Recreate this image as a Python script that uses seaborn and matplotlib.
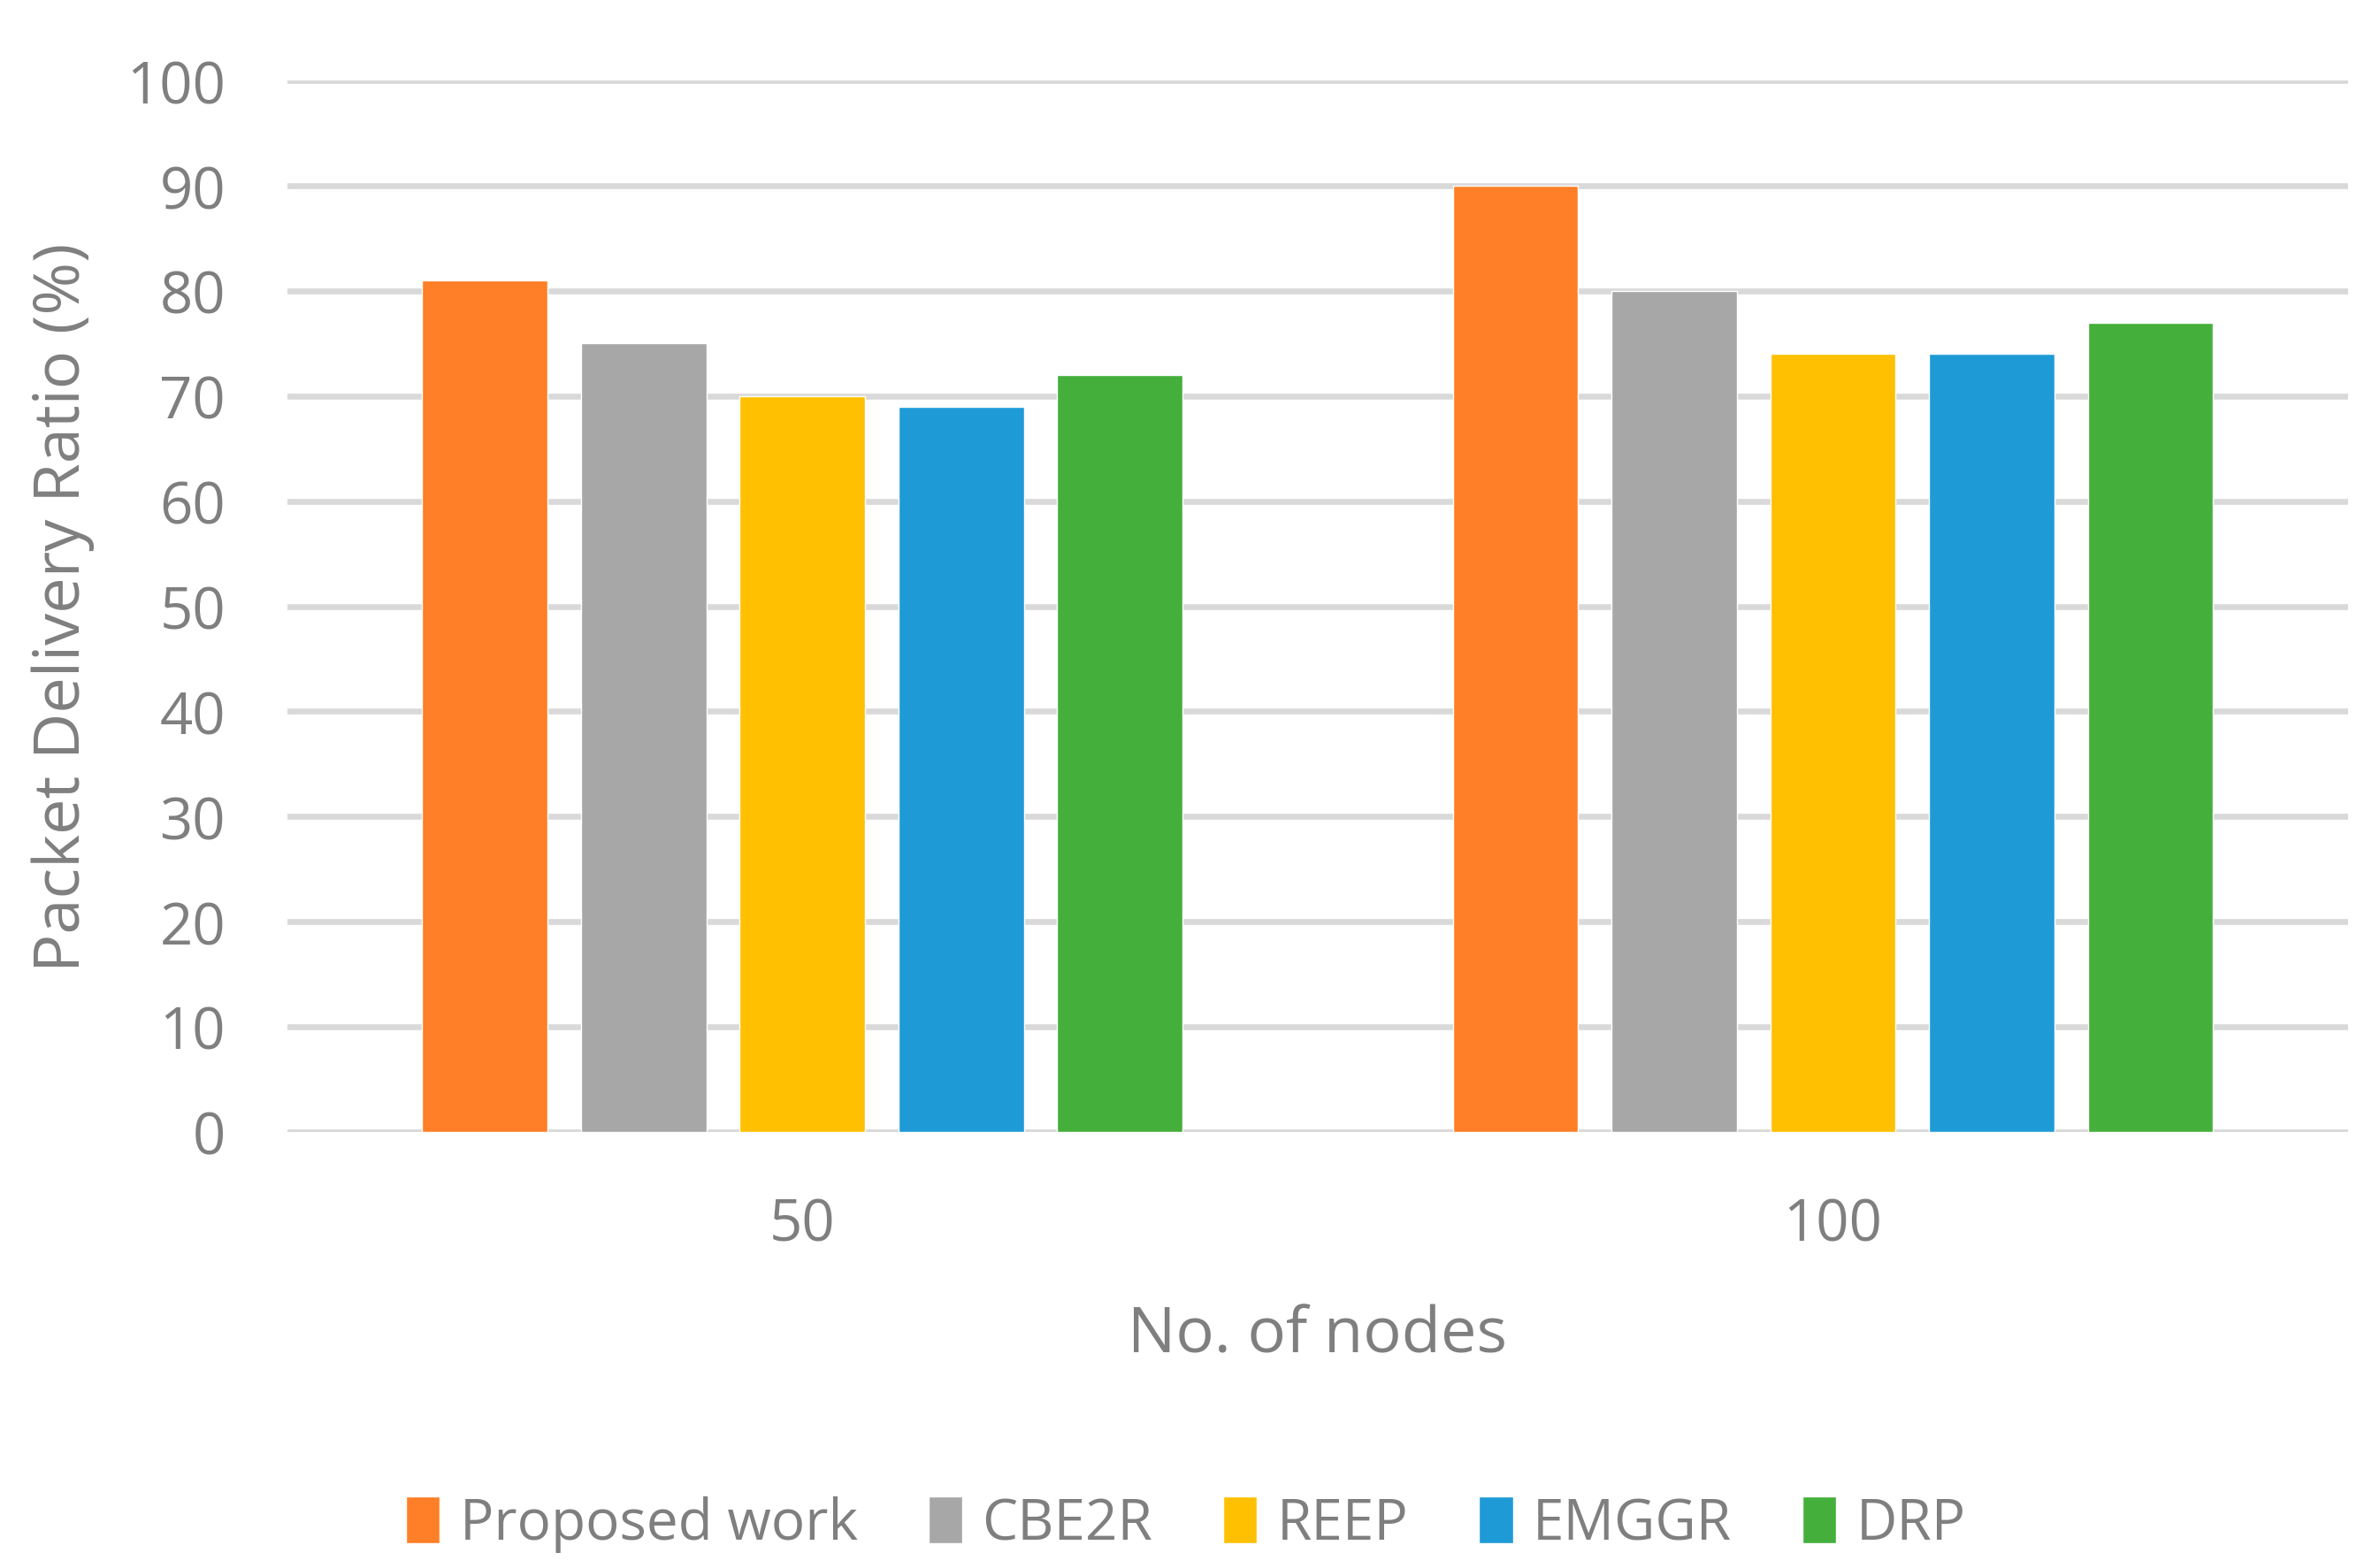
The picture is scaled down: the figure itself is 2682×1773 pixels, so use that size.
import pandas as pd
import matplotlib.pyplot as plt
import seaborn as sns

# data
nodes = ['50', '100']
methods = ['Proposed work', 'CBE2R', 'REEP', 'EMGGR', 'DRP']
pdr_50 = [81, 75, 70, 69, 72]
pdr_100 = [90, 80, 74, 74, 77]
colors = ['#FE7F27', '#A7A7A7', '#FEC000', '#1E9BD7', '#45AF3C']

rows = []
for m, a, b in zip(methods, pdr_50, pdr_100):
    rows.append({'Nodes': '50', 'Method': m, 'PDR': a})
    rows.append({'Nodes': '100', 'Method': m, 'PDR': b})
df = pd.DataFrame(rows)

sns.set_style('white')
plt.rcParams['font.family'] = ['Open Sans', 'DejaVu Sans']
text_col = '#7F7F7F'

fig = plt.figure(figsize=(26.82, 17.74), dpi=100)
ax = fig.add_axes([0.121, 0.278, 0.869, 0.670])

sns.barplot(data=df, x='Nodes', y='PDR', hue='Method', order=nodes,
            hue_order=methods, palette=colors, width=0.77, gap=0.21,
            saturation=1, ax=ax, legend=True)

ax.set_ylim(0, 100)
ax.set_xlim(-0.5, 1.5)
ax.set_yticks(range(0, 101, 10))
ax.yaxis.grid(True, color='#D9D9D9', linewidth=4.8)
ax.set_axisbelow(True)
for s in ['top', 'right', 'left', 'bottom']:
    ax.spines[s].set_visible(False)
ax.axhline(0, color='#D9D9D9', linewidth=4.8, zorder=0.5)
ax.tick_params(axis='both', length=0, labelsize=47, labelcolor=text_col)
ax.tick_params(axis='x', pad=52)
ax.tick_params(axis='y', pad=50)
ax.set_xlabel('No. of nodes', fontsize=52, color=text_col, labelpad=40)
ax.set_ylabel('Packet Delivery Ratio (%)', fontsize=52, color=text_col, labelpad=26)

handles, labels = ax.get_legend_handles_labels()
ax.legend_.remove()
fig.legend(handles, labels, loc='center', bbox_to_anchor=(0.5, 0.028), ncol=5,
           frameon=False, fontsize=46, labelcolor=text_col, handlelength=0.6,
           handleheight=0.9, handletextpad=0.35, columnspacing=1.25)

fig.savefig('out.png', dpi=100)
